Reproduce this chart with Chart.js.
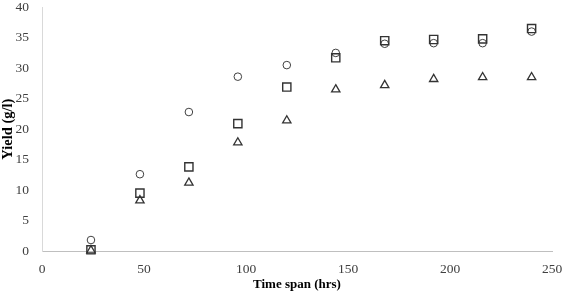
<!DOCTYPE html>
<html>
<head>
<meta charset="utf-8">
<script src="https://cdn.jsdelivr.net/npm/chart.js@4/dist/chart.umd.min.js"></script>
<style>
  html, body { margin: 0; padding: 0; background: #fff; }
  #wrap { width: 564px; height: 296px; }
</style>
</head>
<body>
<div id="wrap"><canvas id="yield-chart"></canvas></div>
<script>
// sampling times (hrs)
let timeHrs = [24, 48, 72, 96, 120, 144, 168, 192, 216, 240]
// yields (g/l) per marker type
let yieldCircle = [1.8, 12.6, 22.8, 28.6, 30.5, 32.5, 34.0, 34.1, 34.1, 36.0]
let yieldSquare = [0.2, 9.5, 13.8, 20.9, 26.9, 31.7, 34.5, 34.7, 34.8, 36.5]
let yieldTriangle = [0.1, 8.3, 11.2, 17.8, 21.4, 26.5, 27.2, 28.2, 28.5, 28.5]

function toPoints(ys) {
    return timeHrs.map((t, i) => ({ x: t, y: ys[i] }))
}

let ink = "#404040"
let serif = "'Liberation Serif', 'DejaVu Serif', serif"

let ctx = document.getElementById("yield-chart").getContext("2d")
let chart = new Chart(ctx, {
    type: "scatter",
    data: {
        datasets: [
            { data: toPoints(yieldCircle), pointStyle: "circle", pointRadius: 3.8, order: 2,
              borderColor: ink, backgroundColor: "rgba(0,0,0,0)", borderWidth: 1, clip: false },
            { data: toPoints(yieldSquare), pointStyle: "rect", pointRadius: 5.8, order: 1,
              borderColor: "#333", backgroundColor: "rgba(0,0,0,0)", borderWidth: 1.4, clip: false },
            { data: toPoints(yieldTriangle), pointStyle: "triangle", pointRadius: 4.8, order: 0,
              borderColor: "#333", backgroundColor: "rgba(0,0,0,0)", borderWidth: 1.3, clip: false }
        ]
    },
    options: {
        responsive: true,
        maintainAspectRatio: false,
        animation: false,
        layout: { padding: { top: 6, right: 12, left: 0, bottom: 0 } },
        plugins: { legend: { display: false }, tooltip: { enabled: false } },
        scales: {
            x: {
                type: "linear",
                min: 0, max: 250,
                grid: { display: false, drawTicks: false },
                border: { display: true, color: "#bfbfbf", width: 1 },
                ticks: { stepSize: 50, color: ink, padding: 10,
                         font: { family: serif, size: 13.5 } },
                title: { display: true, text: "Time span (hrs)", color: "#000",
                         padding: { top: 0, bottom: 4 },
                         font: { family: serif, size: 13, weight: "bold" } },
                afterFit: (s) => {
                    s.height = 45
                    s.paddingLeft = 0; s.paddingRight = 0
                }
            },
            y: {
                min: 0, max: 40,
                grid: { display: false, drawTicks: false },
                border: { display: true, color: "#d9d9d9", width: 1 },
                ticks: { stepSize: 5, color: ink, padding: 13,
                         font: { family: serif, size: 13.5 } },
                title: { display: true, text: "Yield (g/l)", color: "#000",
                         padding: { top: 0, bottom: 0 },
                         font: { family: serif, size: 14.5, weight: "bold" } },
                afterFit: (s) => {
                    s.width = 42
                    s.paddingTop = 0; s.paddingBottom = 0
                }
            }
        }
    }
})
</script>
</body>
</html>
